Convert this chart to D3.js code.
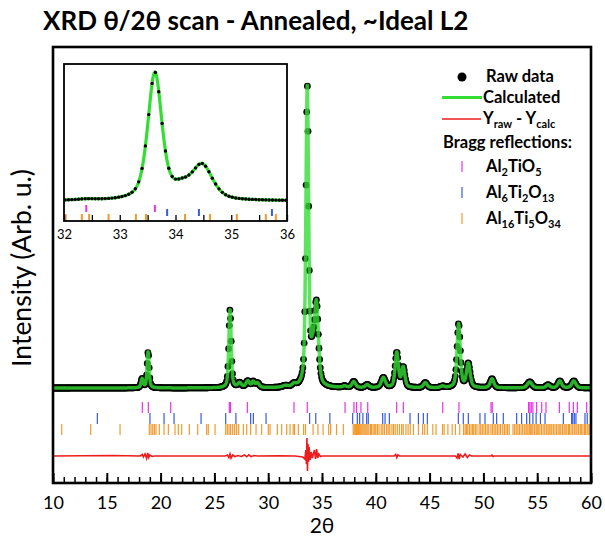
<!DOCTYPE html>
<html>
<head>
<meta charset="utf-8">
<script src="https://cdn.jsdelivr.net/npm/d3@7"></script>
<style>
  body { margin: 0; background: #fff; }
  text { font-family: Lato, "Open Sans", sans-serif; }
</style>
</head>
<body>
<svg id="chart" width="605" height="541"></svg>
<script>
// peaks: position (2θ), height above background, half width
const peakPos    = [18.28, 18.84, 26.45, 27.35, 28.1, 28.6, 29.0, 31.6, 32.4, 33.63, 34.1, 34.48, 37.1, 37.95, 39.2, 40.7, 41.95, 42.55, 44.6, 46.2, 47.7, 48.6, 50.8, 54.3, 56.0, 57.1, 58.4];
const peakHeight = [90, 360, 780, 45, 65, 55, 45, 15, 25, 2980, 240, 800, 15, 60, 30, 100, 350, 200, 50, 15, 640, 240, 90, 60, 30, 70, 70];
const peakHW     = [0.12, 0.11, 0.13, 0.2, 0.2, 0.15, 0.2, 0.3, 0.2, 0.15, 0.2, 0.22, 0.2, 0.2, 0.2, 0.22, 0.18, 0.18, 0.2, 0.2, 0.18, 0.2, 0.2, 0.25, 0.2, 0.2, 0.22];
const background = 300;
const rawStep = 0.06;

// difference curve
const residualX = [10, 15.5, 18.1, 18.3, 18.4, 18.55, 18.7, 18.8, 18.9, 19.0, 19.2, 19.4, 26.0, 26.2, 26.35, 26.45, 26.55, 26.7, 26.9, 27.2, 27.5, 27.8, 28.0, 28.2, 28.4, 28.7, 29.0, 31, 32.5, 33.2, 33.4, 33.5, 33.55, 33.6, 33.65, 33.7, 33.75, 33.8, 33.9, 34.0, 34.1, 34.3, 34.4, 34.5, 34.6, 34.7, 34.85, 35, 41.7, 41.85, 41.95, 42.05, 42.2, 47.4, 47.55, 47.65, 47.75, 47.85, 48.1, 48.3, 48.5, 48.7, 48.9, 50.7, 50.8, 50.9, 51, 60];
const residualY = [0, 5, 0, 15, -10, 20, -25, 30, -15, 10, -5, 0, 0, 10, -15, 20, -20, 10, -5, 5, -5, 10, -8, 12, -6, 5, 0, 3, 0, -10, -30, 60, -80, 180, -150, 120, -60, 90, -40, 40, -20, 60, -30, 70, -20, 20, -5, 0, 0, 15, -15, 10, 0, 0, -20, 25, -30, 15, -10, 20, -15, 10, 0, 0, 8, -5, 0, 0];

// Bragg reflection positions (2θ)
const braggAl2TiO5 = [18.30, 18.86, 20.94, 26.39, 26.5, 28.06, 32.40, 33.63, 37.14, 37.97, 38.22, 38.62, 39.25, 41.94, 42.56, 46.22, 47.73, 50.71, 50.82, 54.2, 54.32, 54.45, 54.6, 54.95, 55.42, 55.82, 57.06, 57.98, 58.36, 58.73, 59.6];
const braggAl6Ti2O13 = [14.12, 19.01, 20.32, 21.25, 23.76, 26.05, 27.0, 28.37, 28.62, 29.80, 33.85, 34.42, 35.73, 37.85, 38.28, 38.5, 38.8, 39.15, 39.3, 40.64, 40.86, 41.26, 43.18, 43.96, 44.42, 44.79, 47.67, 48.13, 48.6, 49.68, 50.15, 50.92, 51.23, 51.85, 53.09, 53.55, 54.02, 54.3, 54.6, 54.9, 55.3, 55.73, 57.43, 58.2, 58.3, 58.45, 58.6, 59.44, 59.65];
const braggAl16Ti5O34 = [10.81, 13.50, 16.23, 18.95, 19.11, 19.27, 19.42, 19.57, 19.88, 20.32, 20.72, 21.34, 21.65, 21.96, 22.67, 23.45, 24.28, 24.43, 25.06, 26.05, 26.20, 26.36, 26.51, 26.70, 26.88, 27.07, 27.26, 27.69, 28.0, 28.37, 28.87, 29.39, 30.01, 30.17, 30.85, 31.25, 31.72, 32.03, 32.32, 32.45, 32.8, 33.29, 33.47, 34.17, 34.62, 35.1, 35.62, 35.8, 36.35, 36.98,
  37.9, 38.0, 38.1, 38.2, 38.3, 38.4, 38.5, 38.6, 38.7, 38.8, 38.9, 39.0, 39.1, 39.2, 39.35, 39.5, 39.6, 39.75, 39.9, 40.0, 40.15, 40.3, 40.5, 40.65, 40.8, 41.0, 41.15, 41.3, 41.5, 41.65, 41.8, 42.0, 42.2, 42.4, 42.55, 42.8, 43.0, 43.2,
  43.5, 43.96, 44.35, 44.55, 44.8, 45.3, 45.6, 46.2, 46.35, 46.7, 47.1, 47.4, 47.8,
  48.15, 48.3, 48.42, 48.55, 48.7, 48.85, 49.0, 49.1, 49.25, 49.4, 49.6, 49.75, 49.9, 50.05, 50.2, 50.35, 50.5, 50.7, 50.85, 51.0, 51.15, 51.3, 51.45, 51.6, 51.8, 51.95, 52.1, 52.25, 52.4, 52.75, 52.9, 53.05, 53.2, 53.35, 53.5, 53.65, 53.8, 53.95, 54.05, 54.15, 54.3, 54.4, 54.5, 54.6, 54.75, 54.9, 55.0, 55.1, 55.25, 55.4, 55.55, 55.7, 55.85, 56.0, 56.1, 56.2, 56.35, 56.5, 56.65, 56.8, 56.95, 57.1, 57.2, 57.35, 57.5, 57.6, 57.75, 57.9, 58.0, 58.15, 58.3, 58.45, 58.6, 58.7, 58.85, 59.0, 59.1, 59.25, 59.4, 59.5, 59.65, 59.8, 59.9];

const majorTicks = [10, 15, 20, 25, 30, 35, 40, 45, 50, 55, 60];

const green = "#33dd33", red = "#ee1c1c";
const phases = [
  { name: [["Al", 0], ["2", 1], ["TiO", 0], ["5", 1]], pos: braggAl2TiO5, color: "#e633e6" },
  { name: [["Al", 0], ["6", 1], ["Ti", 0], ["2", 1], ["O", 0], ["13", 1]], pos: braggAl6Ti2O13, color: "#3a5ae0" },
  { name: [["Al", 0], ["16", 1], ["Ti", 0], ["5", 1], ["O", 0], ["34", 1]], pos: braggAl16Ti5O34, color: "#f39a2e" }
];

// pseudo-Voigt sum of the peaks above
function calc(t) {
  let s = background;
  for (let i = 0; i < peakPos.length; i++) {
    let d = (t - peakPos[i]) / peakHW[i];
    s += peakHeight[i] * (0.5 / (1 + d * d) + 0.5 * Math.exp(-0.6931 * d * d));
  }
  return s;
}

const calcData = d3.range(10, 60.0001, 0.01).map(t => [t, calc(t)]);
const rawData = d3.range(10, 60.0001, rawStep).map(t => [t, calc(t)]);
const resData = residualX.map((t, i) => [t, residualY[i]]);

const svg = d3.select("#chart");
const frame = { left: 53, right: 591, top: 47, bottom: 483 };

const x = d3.scaleLinear().domain([10, 60]).range([frame.left, frame.right]);
const y = d3.scaleLinear().domain([-650, 3710]).range([frame.bottom, frame.top]);
const resOffset = -380;

// title
svg.append("text")
  .attr("x", 43).attr("y", 30)
  .attr("font-size", 26).attr("font-weight", 700)
  .text("XRD θ/2θ scan - Annealed, ~Ideal L2");

svg.append("clipPath").attr("id", "mainClip")
  .append("rect")
  .attr("x", frame.left).attr("y", frame.top)
  .attr("width", frame.right - frame.left).attr("height", frame.bottom - frame.top);

const plot = svg.append("g").attr("clip-path", "url(#mainClip)");

// raw data dots
plot.append("g").selectAll("circle")
  .data(rawData)
  .join("circle")
  .attr("cx", d => x(d[0]))
  .attr("cy", d => y(d[1]))
  .attr("r", 3.4)
  .attr("fill", "#000");

// calculated line
let line = d3.line().x(d => x(d[0])).y(d => y(d[1]));
plot.append("path")
  .datum(calcData)
  .attr("d", line)
  .attr("fill", "none")
  .attr("stroke", green)
  .attr("stroke-opacity", 0.8)
  .attr("stroke-width", 3.5)
  .attr("stroke-linejoin", "round");

// Bragg ticks
let rowTop = [402, 413, 424], tickLen = 11;
phases.forEach((p, i) => {
  plot.append("g").selectAll("line")
    .data(p.pos)
    .join("line")
    .attr("x1", d => x(d)).attr("x2", d => x(d))
    .attr("y1", rowTop[i]).attr("y2", rowTop[i] + tickLen)
    .attr("stroke", p.color)
    .attr("stroke-width", 1.2);
});

// difference curve
plot.append("path")
  .datum(resData)
  .attr("d", d3.line().x(d => x(d[0])).y(d => y(d[1] + resOffset)))
  .attr("fill", "none")
  .attr("stroke", red)
  .attr("stroke-width", 1.6);

// x axis: minor + major ticks pointing inward
svg.append("g")
  .attr("transform", `translate(0,${frame.bottom})`)
  .call(d3.axisBottom(x).ticks(50).tickSize(-6).tickFormat(""))
  .call(g => g.select(".domain").remove())
  .call(g => g.selectAll("line").attr("stroke-width", 1.5));

svg.append("g")
  .attr("transform", `translate(0,${frame.bottom})`)
  .call(d3.axisBottom(x).tickValues(majorTicks).tickSize(-10).tickPadding(13))
  .call(g => g.select(".domain").remove())
  .call(g => g.selectAll("line").attr("stroke-width", 2))
  .call(g => g.selectAll("text").attr("font-size", 18).attr("fill", "#000")
    .attr("font-family", "Lato, sans-serif"));

// frame
svg.append("rect")
  .attr("x", frame.left).attr("y", frame.top)
  .attr("width", frame.right - frame.left).attr("height", frame.bottom - frame.top)
  .attr("fill", "none").attr("stroke", "#000").attr("stroke-width", 2.6);

// axis titles
svg.append("text")
  .attr("x", (frame.left + frame.right) / 2).attr("y", 533)
  .attr("text-anchor", "middle").attr("font-size", 21)
  .text("2θ");

svg.append("text")
  .attr("transform", `translate(31,268) rotate(-90)`)
  .attr("text-anchor", "middle").attr("font-size", 26.5)
  .text("Intensity (Arb. u.)");

// ---------------- inset ----------------
const inset = { left: 64, right: 287, top: 64, bottom: 221 };
const xi = d3.scaleLinear().domain([32, 36]).range([inset.left, inset.right]);
const yi = d3.scaleLinear().domain([-170, 3518]).range([inset.bottom, inset.top]);

svg.append("rect")
  .attr("x", inset.left).attr("y", inset.top)
  .attr("width", inset.right - inset.left).attr("height", inset.bottom - inset.top)
  .attr("fill", "#fff");

svg.append("clipPath").attr("id", "insetClip")
  .append("rect")
  .attr("x", inset.left).attr("y", inset.top)
  .attr("width", inset.right - inset.left).attr("height", inset.bottom - inset.top);

const ip = svg.append("g").attr("clip-path", "url(#insetClip)");

ip.append("path")
  .datum(calcData.filter(d => d[0] >= 31.9 && d[0] <= 36.1))
  .attr("d", d3.line().x(d => xi(d[0])).y(d => yi(d[1])))
  .attr("fill", "none")
  .attr("stroke", green)
  .attr("stroke-width", 3.2);

ip.append("g").selectAll("circle")
  .data(rawData.filter(d => d[0] >= 31.9 && d[0] <= 36.1))
  .join("circle")
  .attr("cx", d => xi(d[0]))
  .attr("cy", d => yi(d[1]))
  .attr("r", 1.7)
  .attr("fill", "#000");

let insetRowTop = [205, 209, 214], insetTickLen = 7;
phases.forEach((p, i) => {
  ip.append("g").selectAll("line")
    .data(p.pos.filter(d => d > 32 && d < 36))
    .join("line")
    .attr("x1", d => xi(d)).attr("x2", d => xi(d))
    .attr("y1", insetRowTop[i]).attr("y2", insetRowTop[i] + insetTickLen)
    .attr("stroke", p.color)
    .attr("stroke-width", 2);
});

svg.append("g")
  .attr("transform", `translate(0,${inset.bottom})`)
  .call(d3.axisBottom(xi).ticks(8).tickSize(-6).tickPadding(9).tickFormat(d => Number.isInteger(d) ? d : ""))
  .call(g => g.select(".domain").remove())
  .call(g => g.selectAll("line").attr("stroke-width", 1.3))
  .call(g => g.selectAll("text").attr("font-size", 13).attr("fill", "#000")
    .attr("font-family", "Lato, sans-serif"));

svg.append("rect")
  .attr("x", inset.left).attr("y", inset.top)
  .attr("width", inset.right - inset.left).attr("height", inset.bottom - inset.top)
  .attr("fill", "none").attr("stroke", "#000").attr("stroke-width", 1.8);

// ---------------- legend ----------------
const lg = svg.append("g").attr("font-weight", 700).attr("font-size", 16.5);

lg.append("circle").attr("cx", 462).attr("cy", 77).attr("r", 4.5).attr("fill", "#000");
lg.append("text").attr("x", 486).attr("y", 82).text("Raw data");

lg.append("line").attr("x1", 442).attr("x2", 482).attr("y1", 97.5).attr("y2", 97.5)
  .attr("stroke", green).attr("stroke-width", 3.2);
lg.append("text").attr("x", 483).attr("y", 103).text("Calculated");

lg.append("line").attr("x1", 442).attr("x2", 481).attr("y1", 119).attr("y2", 119)
  .attr("stroke", red).attr("stroke-width", 1.6);
let yt = lg.append("text").attr("x", 483).attr("y", 124);
yt.append("tspan").text("Y");
yt.append("tspan").attr("font-size", 11).attr("dy", 4).text("raw");
yt.append("tspan").attr("dy", -4).text(" - Y");
yt.append("tspan").attr("font-size", 11).attr("dy", 4).text("calc");

lg.append("text").attr("x", 443).attr("y", 148).text("Bragg reflections:");

let legendBase = [172, 198, 224];
phases.forEach((p, i) => {
  lg.append("line")
    .attr("x1", 462).attr("x2", 462)
    .attr("y1", legendBase[i] - 11).attr("y2", legendBase[i])
    .attr("stroke", p.color).attr("stroke-width", 1.2);
  let t = lg.append("text").attr("x", 486).attr("y", legendBase[i]);
  let shifted = 0;
  p.name.forEach(part => {
    let dy = part[1] ? 4 - shifted : -shifted;
    shifted = part[1] ? 4 : 0;
    t.append("tspan")
      .attr("dy", dy)
      .attr("font-size", part[1] ? 11 : 16.5)
      .text(part[0]);
  });
});
</script>
</body>
</html>
